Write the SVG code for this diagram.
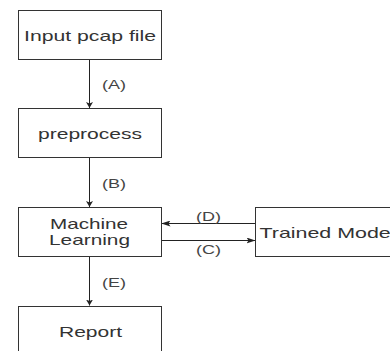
<svg xmlns="http://www.w3.org/2000/svg" width="391" height="351" viewBox="0 0 391 351">
<style>
.box{fill:#fff;stroke:#333;stroke-width:1}
.t{font-family:"Liberation Sans",Arial,sans-serif;font-size:15px;fill:#333;text-anchor:middle}
.lbl{font-family:"Liberation Sans",Arial,sans-serif;font-size:12px;fill:#444;text-anchor:middle}
.ln{fill:none;stroke:#222;stroke-width:1}
</style>
<defs>
<marker id="av" markerUnits="userSpaceOnUse" viewBox="0 0 6 7" refX="6" refY="3.5" markerWidth="6" markerHeight="7" orient="auto">
<path d="M0,0 L6,3.5 L0,7 L1.5,3.5 Z" fill="#222"/>
</marker>
<marker id="ah" markerUnits="userSpaceOnUse" viewBox="0 0 9 6" refX="9" refY="3" markerWidth="9" markerHeight="6" orient="auto">
<path d="M0,0 L9,3 L0,6 L2,3 Z" fill="#222"/>
</marker>
<clipPath id="edge"><rect x="0" y="0" width="390" height="351"/></clipPath>
</defs>
<rect width="391" height="351" fill="#fff"/>
<g id="connectors">
<path class="ln" d="M89.5,59.5 V108" marker-end="url(#av)"/>
<path class="ln" d="M89.5,157.5 V207" marker-end="url(#av)"/>
<path class="ln" d="M89.5,256.5 V305.5" marker-end="url(#av)"/>
<path class="ln" d="M255.5,223.5 H161.5" marker-end="url(#ah)"/>
<path class="ln" d="M161.5,240.5 H255.5" marker-end="url(#ah)"/>
<text class="lbl" x="114" y="88.5" textLength="24" lengthAdjust="spacingAndGlyphs">(A)</text>
<text class="lbl" x="114" y="187.5" textLength="24" lengthAdjust="spacingAndGlyphs">(B)</text>
<text class="lbl" x="114" y="286.5" textLength="24" lengthAdjust="spacingAndGlyphs">(E)</text>
<text class="lbl" x="208.5" y="220.5" textLength="25" lengthAdjust="spacingAndGlyphs">(D)</text>
<text class="lbl" x="208.5" y="253.5" textLength="25" lengthAdjust="spacingAndGlyphs">(C)</text>
</g>
<g id="input">
<rect class="box" x="18.5" y="10.5" width="143" height="49"/>
<text class="t" x="90" y="40.5" textLength="132" lengthAdjust="spacingAndGlyphs">Input pcap file</text>
</g>
<g id="preprocess">
<rect class="box" x="18.5" y="108.5" width="143" height="49"/>
<text class="t" x="90" y="139" textLength="104" lengthAdjust="spacingAndGlyphs">preprocess</text>
</g>
<g id="ml">
<rect class="box" x="18.5" y="207.5" width="143" height="49"/>
<text class="t" x="89" y="228.5" textLength="78" lengthAdjust="spacingAndGlyphs">Machine</text>
<text class="t" x="89.5" y="245.3" textLength="81" lengthAdjust="spacingAndGlyphs">Learning</text>
</g>
<g id="trained" clip-path="url(#edge)">
<rect class="box" x="255.5" y="207.5" width="143" height="49"/>
<text class="t" x="259.5" y="237.5" style="text-anchor:start" textLength="136" lengthAdjust="spacingAndGlyphs">Trained Model</text>
</g>
<g id="report">
<rect class="box" x="18.5" y="306.5" width="143" height="49"/>
<text class="t" x="90.5" y="336.7" textLength="63" lengthAdjust="spacingAndGlyphs">Report</text>
</g>
</svg>
